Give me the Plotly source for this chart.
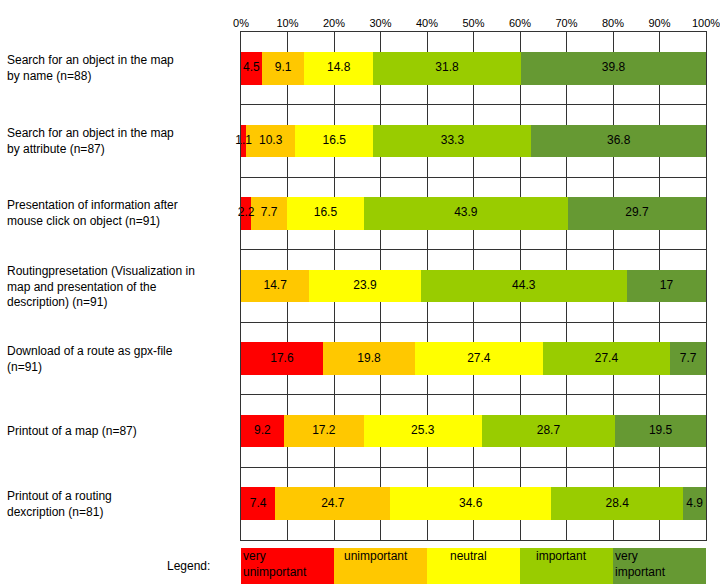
import plotly.graph_objects as go

# survey items, top to bottom
items = [
    "Search for an object in the map<br>by name (n=88)",
    "Search for an object in the map<br>by attribute (n=87)",
    "Presentation of information after<br>mouse click on object (n=91)",
    "Routingpresetation (Visualization in<br>map and presentation of the<br>description) (n=91)",
    "Download of a route as gpx-file<br>(n=91)",
    "Printout of a map (n=87)",
    "Printout of a routing<br>dexcription (n=81)",
]

# answer shares in percent per rating
very_unimportant = [4.5, 1.1, 2.2, 0, 17.6, 9.2, 7.4]
unimportant = [9.1, 10.3, 7.7, 14.7, 19.8, 17.2, 24.7]
neutral = [14.8, 16.5, 16.5, 23.9, 27.4, 25.3, 34.6]
important = [31.8, 33.3, 43.9, 44.3, 27.4, 28.7, 28.4]
very_important = [39.8, 36.8, 29.7, 17, 7.7, 19.5, 4.9]

ratings = ["very<br>unimportant", "unimportant", "neutral", "important", "very<br>important"]
colors = ["#FF0000", "#FFC800", "#FFFF00", "#99CC00", "#669933"]
series = [very_unimportant, unimportant, neutral, important, very_important]

font = "Arial, Liberation Sans, sans-serif"
rows = list(range(len(items)))
totals = [sum(s[r] for s in series) for r in rows]

fig = go.Figure()

for vals, col, name in zip(series, colors, ratings):
    fig.add_trace(go.Bar(
        x=vals, y=rows, orientation="h", name=name,
        marker=dict(color=col, line=dict(width=0)),
        width=0.45, xaxis="x", yaxis="y", showlegend=False,
    ))

# value labels sit on top of all bars so narrow ones can spill over
below = [0.0] * len(rows)
for vals in series:
    mids = [(b + v / 2) / t * 100 for b, v, t in zip(below, vals, totals)]
    fig.add_trace(go.Scatter(
        x=mids, y=rows, mode="text",
        text=[("%g" % v) if v > 0 else "" for v in vals],
        textfont=dict(family=font, size=12, color="black"),
        xaxis="x", yaxis="y", showlegend=False, hoverinfo="skip",
        cliponaxis=False,
    ))
    below = [b + v for b, v in zip(below, vals)]

# legend drawn as a strip of equal boxes under the chart
for i, (col, name) in enumerate(zip(colors, ratings)):
    fig.add_trace(go.Bar(
        x=[20], y=[0], orientation="h", width=1,
        marker=dict(color=col, line=dict(width=0)),
        xaxis="x2", yaxis="y2", showlegend=False, hoverinfo="skip",
    ))
    left = name.startswith("very")
    fig.add_annotation(
        x=20 * i + (0.3 if left else 9), y=0.5, xref="x2", yref="y2",
        text=name, showarrow=False, xanchor="left" if left else "center",
        yanchor="top", align="left", borderpad=0,
        font=dict(family=font, size=12, color="black"),
    )

fig.add_annotation(
    x=-0.062, y=0.033, xref="paper", yref="paper", text="Legend:",
    showarrow=False, xanchor="right", yanchor="middle",
    font=dict(family=font, size=12, color="black"),
)

for i, label in enumerate(items):
    fig.add_annotation(
        x=-0.508, y=i, xref="paper", yref="y", text=label,
        showarrow=False, xanchor="left", yanchor="middle", align="left",
        font=dict(family=font, size=12, color="black"),
    )

fig.update_layout(
    barmode="stack", barnorm="percent",
    width=720, height=584,
    margin=dict(l=241, r=11, t=32, b=0),
    plot_bgcolor="white", paper_bgcolor="white",
    font=dict(family=font, size=11, color="black"),
    xaxis=dict(
        side="top", range=[0, 100], dtick=10, ticksuffix="%",
        showgrid=True, gridcolor="#333333", gridwidth=1,
        showline=True, linecolor="#333333", mirror=True,
        zeroline=False, ticks="", tickfont=dict(size=11),
        ticklabeloverflow="allow", anchor="y",
    ),
    yaxis=dict(
        range=[6.5, -0.5], tick0=0.5, dtick=1,
        showgrid=True, gridcolor="#333333", gridwidth=1,
        showticklabels=False, showline=True, linecolor="#333333",
        mirror=True, zeroline=False, ticks="",
        domain=[0.0797, 1],
    ),
    xaxis2=dict(range=[0, 100], visible=False, anchor="y2"),
    yaxis2=dict(range=[-0.5, 0.5], visible=False, domain=[0, 0.0652]),
)

# drop the default page margin so the figure sits at the window's corner
fig.write_html(
    "out.html",
    config={"displayModeBar": False},
    post_script="document.body.style.margin='0';",
)
